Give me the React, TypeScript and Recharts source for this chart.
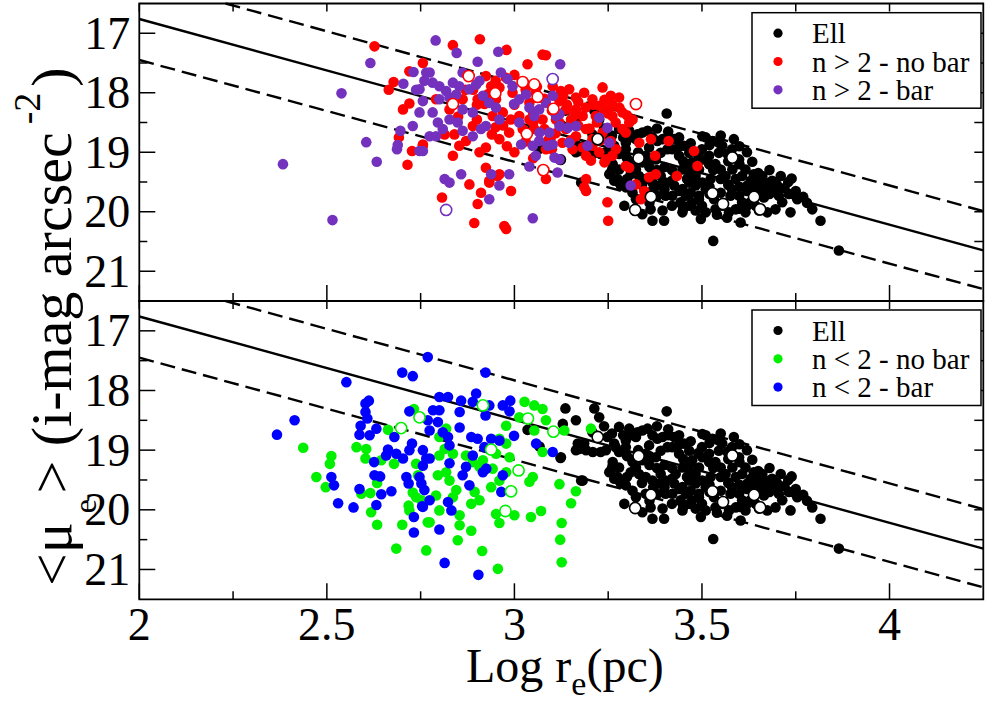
import React from 'react';
import { ScatterChart, Scatter, XAxis, YAxis, ReferenceLine, ReferenceArea } from 'recharts';

type Pt = [number, number];

// ---------- axis values ----------
const xTicks = [2, 2.25, 2.5, 2.75, 3, 3.25, 3.5, 3.75, 4];
const yTicks = [17, 17.5, 18, 18.5, 19, 19.5, 20, 20.5, 21];
const xDomain: [number, number] = [2, 4.25];
const yDomain: [number, number] = [16.5, 21.5];

// ---------- relation lines (log re, <mu_e>) ----------
const fitLineX = [2, 4.25];
const fitLineMu = [16.76, 20.65];
const upperLineX = [2.23, 4.25];
const upperLineMu = [16.5, 19.99];
const lowerLineX = [2, 4.25];
const lowerLineMu = [17.45, 21.3];

// ---------- Ell ----------
const ellPoints: Pt[] = [
  [3.406, 18.35], [3.239, 18.6], [3.248, 18.78], [3.266, 18.89], [3.279, 19.03], [3.23, 19.03], [3.253, 19.37],
  [3.266, 19.48], [3.284, 19.56], [3.297, 18.95], [3.315, 18.75], [3.328, 18.7], [3.341, 18.67], [3.355, 18.64],
  [3.368, 18.75], [3.381, 18.81], [3.395, 18.78], [3.412, 18.75], [3.426, 18.78], [3.439, 18.75], [3.452, 18.89],
  [3.466, 19.01], [3.439, 19.06], [3.421, 18.95], [3.408, 18.95], [3.39, 19.01], [3.377, 19.12], [3.359, 18.92],
  [3.341, 19.17], [3.324, 19.29], [3.31, 19.37], [3.332, 19.4], [3.35, 19.45], [3.368, 19.51], [3.386, 19.56],
  [3.403, 19.51], [3.426, 19.56], [3.448, 19.62], [3.466, 19.51], [3.483, 19.4], [3.492, 19.29], [3.474, 19.17],
  [3.501, 19.12], [3.519, 19.06], [3.501, 18.73], [3.51, 18.75], [3.528, 18.81], [3.545, 18.84], [3.554, 18.89],
  [3.585, 18.78], [3.519, 19.2], [3.536, 19.2], [3.55, 19.29], [3.563, 19.4], [3.581, 19.29], [3.59, 19.45],
  [3.607, 19.4], [3.616, 19.29], [3.634, 19.16], [3.599, 19.12], [3.568, 19.03], [3.545, 19.01], [3.523, 19.45],
  [3.51, 19.62], [3.492, 19.73], [3.474, 19.84], [3.466, 19.9], [3.483, 19.98], [3.497, 20.12], [3.51, 20.01],
  [3.536, 19.96], [3.554, 19.9], [3.572, 20.01], [3.567, 20.1], [3.59, 19.96], [3.603, 20.18], [3.616, 20.01],
  [3.629, 19.84], [3.643, 19.73], [3.661, 19.62], [3.67, 19.51], [3.687, 19.48], [3.661, 19.4], [3.638, 19.37],
  [3.652, 19.51], [3.679, 19.56], [3.696, 19.62], [3.705, 19.73], [3.714, 19.84], [3.696, 19.96], [3.674, 20.01],
  [3.732, 19.7], [3.736, 20.01], [3.754, 19.79], [3.794, 19.96], [3.816, 20.15], [3.739, 19.44], [3.293, 19.9],
  [3.341, 20.04], [3.368, 20.15], [3.399, 20.15], [3.395, 19.98], [3.363, 19.96], [3.324, 19.79], [3.315, 19.68],
  [3.297, 19.59], [3.279, 19.51], [3.35, 19.73], [3.381, 19.73], [3.403, 19.73], [3.421, 19.73], [3.443, 19.84],
  [3.457, 19.73], [3.43, 19.4], [3.448, 19.29], [3.466, 19.34], [3.483, 19.56], [3.501, 19.51], [3.492, 19.79],
  [3.448, 20.01], [3.53, 20.49], [3.865, 20.65], [3.55, 19.68], [3.532, 19.79], [3.576, 19.73], [3.599, 19.73],
  [3.607, 19.84], [3.621, 19.56], [3.63, 19.48], [3.643, 19.9], [3.652, 19.98], [3.665, 19.76], [3.35, 19.06],
  [3.315, 19.17], [3.279, 19.29], [3.262, 19.2], [3.129, 18.56], [3.124, 19.12], [3.182, 19.51], [3.226, 18.45],
  [3.279, 18.61], [3.297, 18.84], [3.261, 19.28], [3.244, 19.0], [3.315, 19.2], [3.324, 18.78], [3.136, 18.3],
  [3.213, 18.3], [3.164, 18.5], [3.169, 18.89], [3.191, 19.0], [3.209, 19.03], [3.164, 19.0], [3.123, 19.13],
  [3.178, 19.51], [3.035, 18.66], [3.067, 18.94], [3.208, 18.7], [3.186, 18.89], [3.173, 18.98], [3.306, 18.64],
  [3.257, 19.34], [3.275, 19.45],
  [3.4, 19.25], [3.42, 19.3], [3.38, 19.3], [3.36, 19.25], [3.45, 19.15], [3.47, 19.22], [3.49, 19.05],
  [3.53, 19.3], [3.55, 19.45], [3.57, 19.55], [3.52, 19.58], [3.46, 19.45], [3.42, 19.48], [3.39, 19.4],
  [3.37, 19.62], [3.4, 19.62], [3.44, 19.65], [3.47, 19.68], [3.52, 19.7], [3.58, 19.62], [3.6, 19.58],
  [3.62, 19.65], [3.64, 19.6], [3.68, 19.7], [3.7, 19.55], [3.72, 19.6], [3.75, 19.65], [3.77, 19.75],
  [3.78, 19.85], [3.57, 19.15], [3.6, 19.2], [3.65, 19.35], [3.68, 19.3], [3.71, 19.4], [3.73, 19.5],
  [3.33, 19.0], [3.36, 19.1], [3.3, 19.45], [3.34, 19.55], [3.36, 19.85], [3.42, 19.9], [3.45, 19.95],
  [3.5, 19.9], [3.54, 20.05], [3.6, 19.95], [3.62, 19.9], [3.26, 18.72], [3.29, 18.75], [3.27, 18.95],
  [3.3, 19.1], [3.58, 18.95], [3.6, 18.9], [3.62, 19.0], [3.55, 18.72], [3.47, 18.85], [3.44, 18.9],
  [3.41, 18.65], [3.38, 18.6], [3.5, 18.95], [3.52, 18.88],
];
const ellOpen: Pt[] = [
  [3.331, 19.1], [3.364, 19.75], [3.322, 19.97], [3.581, 19.09], [3.528, 19.69], [3.556, 19.87], [3.639, 19.75],
  [3.655, 19.96], [3.222, 18.78],
];

// ---------- n > 2 - no bar ----------
const redPoints: Pt[] = [
  [2.908, 17.1], [2.836, 17.2], [2.979, 17.28], [3.075, 17.36], [3.084, 17.37], [3.035, 17.52], [2.924, 17.72],
  [2.938, 17.89], [2.978, 17.75], [2.96, 17.91], [2.995, 18.0], [2.902, 18.11], [2.92, 18.19], [2.942, 18.39],
  [2.969, 18.33], [2.991, 18.45], [3.013, 18.39], [3.022, 18.61], [2.986, 18.67], [2.96, 18.78], [2.924, 18.92],
  [2.907, 19.0], [2.871, 18.81], [2.84, 18.7], [2.853, 18.89], [2.836, 19.06], [2.814, 18.7], [2.756, 18.89],
  [3.04, 18.45], [3.053, 18.61], [3.08, 18.61], [3.084, 18.95], [3.075, 18.45], [3.12, 18.14], [3.137, 18.28],
  [3.151, 18.45], [3.137, 18.61], [3.164, 18.28], [3.186, 18.0], [3.208, 18.11], [3.235, 17.91], [3.257, 18.05],
  [3.279, 18.08], [3.182, 18.39], [3.191, 18.61], [3.208, 18.78], [3.235, 18.67], [3.27, 18.5], [3.297, 18.67],
  [3.261, 18.39], [3.239, 18.28], [3.217, 18.39], [3.288, 18.33], [3.146, 17.94], [3.164, 18.08], [3.182, 18.92],
  [3.208, 18.89], [3.226, 19.0], [3.244, 19.12], [3.261, 19.06], [3.191, 19.06], [2.88, 19.54], [2.924, 19.26],
  [2.911, 19.68], [2.955, 19.4], [2.991, 19.65], [2.807, 19.76], [2.902, 19.87], [2.893, 20.19], [2.973, 20.24],
  [2.978, 20.29], [3.248, 19.84], [3.25, 20.15], [3.186, 19.59], [3.084, 19.45], [2.933, 19.51], [2.951, 18.11],
  [3.04, 18.17], [3.057, 18.0], [3.102, 17.89], [3.124, 17.97], [3.111, 18.45], [3.097, 18.75], [3.128, 18.84],
  [3.164, 18.73], [3.155, 18.95], [3.226, 18.22], [3.288, 18.61], [3.315, 18.45], [2.862, 18.11], [2.827, 18.28],
  [2.889, 18.56], [2.791, 18.11], [2.627, 17.22], [2.756, 17.5], [2.72, 17.64], [2.678, 17.82], [2.665, 17.95],
  [2.72, 18.18], [2.703, 18.28], [2.692, 18.75], [2.756, 18.87], [2.727, 18.98], [2.715, 19.21], [2.96, 19.37],
  [2.933, 19.48], [3.191, 19.65], [3.204, 19.14], [3.24, 19.17], [3.297, 19.23], [3.257, 18.81], [3.271, 18.95],
  [3.333, 18.84], [3.364, 18.78], [3.306, 19.26], [3.359, 19.42], [3.411, 18.81], [3.375, 19.06], [3.479, 18.98],
  [3.488, 19.23], [3.433, 19.4], [3.377, 19.37], [3.346, 19.65], [3.337, 19.79], [3.324, 19.54], [3.262, 18.22],
  [3.306, 18.5], [3.191, 19.45], [2.93, 18.02], [3.0, 18.2], [3.05, 18.33], [3.1, 18.3], [3.17, 18.55],
  [3.22, 18.5], [3.25, 18.35], [2.97, 18.55], [3.03, 18.82], [3.11, 18.68], [3.06, 17.9], [3.0, 17.7],
  [2.89, 17.95], [2.85, 18.4],
  [3.13, 18.05], [3.17, 18.15], [3.19, 18.25], [3.21, 18.2], [3.24, 18.12], [3.26, 18.2], [3.28, 18.25],
  [3.3, 18.38], [3.2, 18.6], [3.23, 18.8], [3.15, 18.8], [3.1, 18.95], [3.05, 19.1], [3.0, 19.0],
  [2.98, 18.9], [2.94, 18.7], [2.9, 18.45], [2.95, 18.58], [2.9, 18.2], [2.87, 17.95], [2.95, 17.8],
  [3.03, 17.95], [3.08, 18.1], [3.14, 18.2], [3.16, 18.38], [3.12, 18.5], [3.09, 18.8], [3.05, 18.5],
];
const redOpen: Pt[] = [
  [3.022, 17.82], [3.053, 17.86], [2.949, 18.01], [3.062, 18.07], [2.836, 18.19], [3.104, 18.27], [3.033, 18.69],
  [3.077, 19.3], [3.324, 18.19], [2.878, 17.72],
];

// ---------- n > 2 - bar ----------
const purplePoints: Pt[] = [
  [2.616, 17.5], [2.731, 17.65], [2.765, 17.66], [2.704, 17.85], [2.76, 17.8], [2.738, 17.95], [2.539, 18.01],
  [2.756, 18.14], [2.747, 18.33], [2.729, 18.56], [2.696, 18.64], [2.605, 18.83], [2.689, 18.88], [2.687, 18.95],
  [2.747, 18.98], [2.633, 19.16], [2.383, 19.2], [2.515, 20.14], [2.774, 18.73], [2.79, 17.12], [2.846, 17.33],
  [2.957, 17.31], [2.902, 17.48], [3.122, 17.52], [2.774, 17.66], [2.782, 17.83], [2.8, 17.89], [2.818, 17.97],
  [2.836, 17.83], [2.853, 17.89], [2.862, 17.66], [2.88, 17.94], [2.898, 17.86], [2.907, 17.8], [2.916, 18.05],
  [2.8, 18.11], [2.827, 18.08], [2.845, 18.03], [2.782, 18.33], [2.796, 18.5], [2.809, 18.61], [2.791, 18.73],
  [2.827, 18.45], [2.849, 18.5], [2.862, 18.64], [2.889, 18.73], [2.911, 18.61], [2.924, 18.56], [2.889, 18.33],
  [2.862, 18.28], [2.933, 18.17], [2.951, 18.25], [2.96, 18.45], [2.964, 17.66], [2.982, 17.77], [2.995, 17.89],
  [3.013, 18.11], [3.031, 18.03], [2.999, 18.19], [3.013, 18.5], [3.04, 18.25], [3.053, 18.39], [3.066, 18.28],
  [3.084, 18.17], [3.102, 18.05], [3.111, 18.39], [3.12, 18.56], [3.093, 18.67], [3.066, 18.81], [3.049, 18.89],
  [3.018, 18.87], [3.057, 19.06], [3.102, 18.87], [3.12, 19.12], [3.164, 18.56], [3.226, 18.42], [3.248, 18.59],
  [2.814, 19.45], [2.827, 19.51], [2.858, 19.37], [2.986, 19.37], [2.938, 19.37], [2.96, 19.56], [2.933, 19.79],
  [3.049, 20.11], [3.31, 19.56], [2.756, 18.98], [2.747, 17.94], [3.04, 19.24], [3.115, 19.34], [3.12, 18.36],
  [3.142, 18.59], [3.146, 18.84], [3.089, 18.89], [3.107, 19.09], [3.195, 18.89], [3.253, 18.84], [3.067, 18.67],
];
const purpleOpen: Pt[] = [[3.102, 17.77], [2.818, 19.97]];

// ---------- n < 2 - no bar ----------
const greenPoints: Pt[] = [
  [2.732, 18.31], [2.663, 18.66], [2.437, 18.96], [2.579, 18.95], [2.605, 18.98], [2.603, 19.14], [2.645, 19.17],
  [2.679, 19.23], [2.512, 19.1], [2.508, 19.23], [2.472, 19.45], [2.497, 19.62], [2.592, 19.73], [2.616, 19.72],
  [2.634, 19.55], [2.618, 20.04], [2.634, 20.25], [2.701, 20.25], [2.718, 19.93], [2.72, 20.01], [2.729, 19.71],
  [2.738, 19.79], [2.743, 19.42], [2.769, 20.21], [2.685, 20.65], [2.765, 20.68], [2.738, 19.23], [2.752, 19.84],
  [3.027, 18.19], [3.053, 18.25], [3.075, 18.31], [3.013, 18.45], [2.978, 18.59], [3.053, 18.67], [3.084, 18.5],
  [3.133, 18.67], [3.075, 19.03], [2.96, 18.81], [2.978, 18.89], [2.951, 19.06], [2.987, 19.12], [2.916, 19.17],
  [2.907, 19.28], [2.889, 19.2], [2.871, 19.09], [2.836, 19.06], [2.8, 19.09], [2.814, 18.98], [2.8, 18.78],
  [2.818, 18.64], [2.818, 19.37], [2.796, 19.42], [2.827, 19.51], [2.845, 19.67], [2.836, 19.79], [2.791, 19.76],
  [2.8, 20.01], [2.774, 20.21], [2.854, 20.09], [2.854, 20.26], [2.885, 19.9], [2.907, 19.84], [2.894, 19.7],
  [2.938, 19.62], [2.96, 19.51], [2.942, 19.31], [2.978, 19.37], [3.04, 19.53], [3.049, 19.45], [3.12, 19.57],
  [3.164, 19.69], [3.151, 19.89], [3.071, 20.02], [3.044, 20.12], [3.0, 20.09], [2.96, 20.22], [2.951, 20.07],
  [2.885, 20.35], [2.849, 20.51], [2.914, 20.69], [2.956, 20.99], [3.126, 20.22], [3.122, 20.5], [3.126, 20.88],
  [3.204, 18.64],
];
const greenOpen: Pt[] = [
  [2.698, 18.63], [2.747, 18.45], [2.916, 18.25], [3.036, 18.47], [3.104, 18.69], [2.938, 18.99], [3.011, 19.34],
  [2.991, 19.69], [2.976, 20.02],
];

// ---------- n < 2 - bar ----------
const bluePoints: Pt[] = [
  [2.701, 17.7], [2.729, 17.76], [2.552, 17.86], [2.603, 18.22], [2.612, 18.17], [2.603, 18.36], [2.608, 18.47],
  [2.72, 18.35], [2.414, 18.5], [2.367, 18.74], [2.59, 18.59], [2.587, 18.74], [2.614, 18.75], [2.632, 18.64],
  [2.68, 18.78], [2.663, 18.99], [2.658, 19.09], [2.685, 19.06], [2.703, 19.14], [2.72, 19.0], [2.727, 18.89],
  [2.756, 19.0], [2.765, 19.14], [2.756, 19.26], [2.626, 19.2], [2.627, 19.42], [2.642, 19.44], [2.512, 19.45],
  [2.519, 19.59], [2.587, 19.65], [2.645, 19.74], [2.672, 19.69], [2.712, 19.45], [2.718, 19.56], [2.747, 19.45],
  [2.752, 19.56], [2.53, 19.89], [2.571, 19.96], [2.632, 19.92], [2.754, 19.94], [2.732, 20.12], [2.732, 20.38],
  [2.769, 17.44], [2.923, 17.7], [2.898, 18.05], [2.8, 18.11], [2.823, 18.11], [2.858, 18.17], [2.889, 18.19],
  [2.933, 18.25], [2.969, 18.25], [2.989, 18.17], [2.987, 18.35], [2.783, 18.33], [2.8, 18.33], [2.854, 18.36],
  [2.923, 18.42], [2.769, 18.5], [2.796, 18.53], [2.774, 18.67], [2.809, 18.7], [2.823, 18.78], [2.827, 18.92],
  [2.854, 18.62], [2.885, 18.78], [2.902, 18.81], [2.938, 18.81], [2.96, 18.84], [2.92, 18.95], [2.889, 19.09],
  [2.999, 18.76], [2.774, 19.14], [2.827, 19.22], [2.871, 19.28], [2.862, 19.42], [2.88, 19.59], [2.916, 19.37],
  [2.925, 19.31], [2.969, 19.42], [2.965, 19.7], [3.102, 19.03], [3.058, 18.89], [2.76, 19.67], [2.774, 19.84],
  [2.756, 19.95], [2.823, 19.87], [2.832, 20.01], [2.8, 20.33], [2.814, 20.89], [2.904, 21.09],
];

// ---------- colours / layout ----------
const BLACK = '#000000';
const RED = '#ff0000';
const PURPLE = '#7431be';
const GREEN = '#00f000';
const BLUE = '#0000ff';
const FONT = 'Liberation Serif, DejaVu Serif, serif';

const W = 988;
const H = 703;
const PLOT_L = 139.3;
const PLOT_R = 983.3;
const PW = PLOT_R - PLOT_L;
const TOP_T = 3.5;
const TOP_B = 301;
const BOT_T = 301;
const BOT_B = 599.3;

const toData = (pts: Pt[]) => pts.map(([x, y]) => ({ x, y }));

const dot = (color: string) => (p: any) =>
  p.cx == null ? <g /> : <circle cx={p.cx} cy={p.cy} r={5.3} fill={color} stroke="none" />;
const ring = (color: string) => (p: any) =>
  p.cx == null ? <g /> : <circle cx={p.cx} cy={p.cy} r={5.6} fill="#ffffff" stroke={color} strokeWidth={1.6} />;

const makeXTick = (ph: number, labels: boolean) => (props: any) => {
  const { x, y, payload } = props;
  const v = Number(payload.value);
  const major = Math.abs(v * 2 - Math.round(v * 2)) < 1e-6;
  return (
    <g>
      <line x1={x} y1={y} x2={x} y2={y - (major ? 16 : 8)} stroke="#000" strokeWidth={1.5} />
      <line x1={x} y1={y - ph} x2={x} y2={y - ph + 8} stroke="#000" strokeWidth={1.5} />
      {labels && major ? (
        <text x={x} y={y + 41} textAnchor="middle" fontSize={46} fontFamily={FONT} fill="#000">
          {String(v)}
        </text>
      ) : null}
    </g>
  );
};

const yTick = (props: any) => {
  const { x, y, payload } = props;
  const v = Number(payload.value);
  const major = Number.isInteger(v);
  return (
    <g>
      <line x1={x} y1={y} x2={x + (major ? 16 : 8)} y2={y} stroke="#000" strokeWidth={1.5} />
      <line x1={x + PW} y1={y} x2={x + PW - 9} y2={y} stroke="#000" strokeWidth={1.5} />
      {major ? (
        <text x={x - 9} y={y} textAnchor="end" dominantBaseline="central" fontSize={46} fontFamily={FONT} fill="#000">
          {String(v)}
        </text>
      ) : null}
    </g>
  );
};

const lines = () => [
  <ReferenceLine
    key="fit"
    segment={[{ x: fitLineX[0], y: fitLineMu[0] }, { x: fitLineX[1], y: fitLineMu[1] }]}
    stroke="#000"
    strokeWidth={2.4}
    ifOverflow="visible"
  />,
  <ReferenceLine
    key="up"
    segment={[{ x: upperLineX[0], y: upperLineMu[0] }, { x: upperLineX[1], y: upperLineMu[1] }]}
    stroke="#000"
    strokeWidth={2.4}
    strokeDasharray="15 7"
    ifOverflow="visible"
  />,
  <ReferenceLine
    key="low"
    segment={[{ x: lowerLineX[0], y: lowerLineMu[0] }, { x: lowerLineX[1], y: lowerLineMu[1] }]}
    stroke="#000"
    strokeWidth={2.4}
    strokeDasharray="15 7"
    ifOverflow="visible"
  />,
];

function Panel(props: {
  top: number;
  bottom: number;
  labels: boolean;
  series: { name: string; pts: Pt[]; shape: any }[];
}) {
  const { top, bottom, labels, series } = props;
  const ph = bottom - top;
  return (
    <div style={{ position: 'absolute', left: 0, top: 0, width: W, height: H }}>
      <ScatterChart
        width={W}
        height={H}
        margin={{ top, bottom: H - bottom - 1, left: PLOT_L - 1, right: W - PLOT_R }}
      >
        <XAxis
          type="number"
          dataKey="x"
          domain={xDomain}
          ticks={xTicks}
          interval={0}
          allowDataOverflow
          height={1}
          tickSize={0}
          tickMargin={0}
          tickLine={false}
          axisLine={false}
          tick={makeXTick(ph, labels)}
        />
        <YAxis
          type="number"
          dataKey="y"
          domain={yDomain}
          reversed
          ticks={yTicks}
          interval={0}
          allowDataOverflow
          width={1}
          tickSize={0}
          tickMargin={0}
          tickLine={false}
          axisLine={false}
          tick={yTick}
        />
        {series.map((s) => (
          <Scatter key={s.name} name={s.name} data={toData(s.pts)} shape={s.shape} isAnimationActive={false} />
        ))}
        {lines()}
        <ReferenceArea
          x1={xDomain[0]}
          x2={xDomain[1]}
          y1={yDomain[0]}
          y2={yDomain[1]}
          fill="none"
          fillOpacity={0}
          stroke="#000"
          strokeWidth={1.8}
          ifOverflow="visible"
        />
      </ScatterChart>
    </div>
  );
}

function LegendBox(props: { top: number; items: { label: string; color: string }[] }) {
  const { top, items } = props;
  return (
    <g>
      <rect x={752} y={top} width={229} height={95.5} fill="#fff" stroke="#000" strokeWidth={1.5} />
      {items.map((it, i) => {
        const cy = top + 20.5 + i * 28.3;
        return (
          <g key={it.label}>
            <circle cx={778} cy={cy} r={4.6} fill={it.color} />
            <text x={812} y={cy + 10} fontSize={29} fontFamily={FONT} fill="#000">
              {it.label}
            </text>
          </g>
        );
      })}
    </g>
  );
}

export default function App() {
  const topSeries = [
    { name: 'Ell', pts: ellPoints, shape: dot(BLACK) },
    { name: 'n > 2 - no bar', pts: redPoints, shape: dot(RED) },
    { name: 'n > 2 - bar', pts: purplePoints, shape: dot(PURPLE) },
    { name: 'Ell open', pts: ellOpen, shape: ring(BLACK) },
    { name: 'no bar open', pts: redOpen, shape: ring(RED) },
    { name: 'bar open', pts: purpleOpen, shape: ring(PURPLE) },
  ];
  const bottomSeries = [
    { name: 'Ell', pts: ellPoints, shape: dot(BLACK) },
    { name: 'n < 2 - no bar', pts: greenPoints, shape: dot(GREEN) },
    { name: 'n < 2 - bar', pts: bluePoints, shape: dot(BLUE) },
    { name: 'Ell open', pts: ellOpen, shape: ring(BLACK) },
    { name: 'no bar open', pts: greenOpen, shape: ring(GREEN) },
  ];
  return (
    <div style={{ position: 'absolute', left: 0, top: 0, width: W, height: H, background: '#fff', overflow: 'hidden' }}>
      <Panel top={TOP_T} bottom={TOP_B} labels={false} series={topSeries} />
      <Panel top={BOT_T} bottom={BOT_B} labels={true} series={bottomSeries} />
      <svg
        width={W}
        height={H}
        style={{ position: 'absolute', left: 0, top: 0, pointerEvents: 'none' }}
      >
        <LegendBox
          top={12.7}
          items={[
            { label: 'Ell', color: BLACK },
            { label: 'n > 2 - no bar', color: RED },
            { label: 'n > 2 - bar', color: PURPLE },
          ]}
        />
        <LegendBox
          top={310}
          items={[
            { label: 'Ell', color: BLACK },
            { label: 'n < 2 - no bar', color: GREEN },
            { label: 'n < 2 - bar', color: BLUE },
          ]}
        />
        <text transform="translate(71,586) rotate(-90)" fontSize={58} fontFamily={FONT} fill="#000">
          {'<μ'}
          <tspan dx={9} dy={25} fontSize={32}>e</tspan>
          <tspan dx={-9} dy={-25}>{' > (i-mag arcsec'}</tspan>
          <tspan dx={8} dy={-31} fontSize={38}>-2</tspan>
          <tspan dx={6} dy={31}>)</tspan>
        </text>
        <text x={466} y={682} fontSize={48} fontFamily={FONT} fill="#000">
          {'Log r'}
          <tspan dy={13} fontSize={34}>e</tspan>
          <tspan dy={-13}>(pc)</tspan>
        </text>
      </svg>
    </div>
  );
}
